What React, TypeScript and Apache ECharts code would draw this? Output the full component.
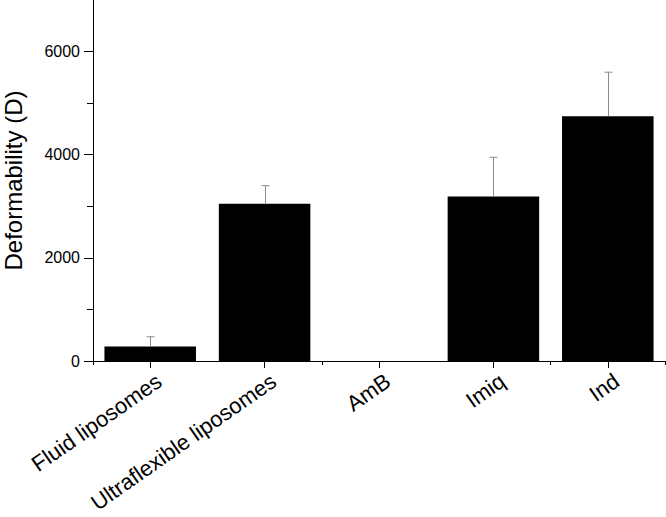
import React, { useEffect, useRef } from "react";
import * as echarts from "echarts";

const categories = ["Fluid liposomes", "Ultraflexible liposomes", "AmB", "Imiq", "Ind"];
const values = [280, 3050, 0, 3190, 4745];
const errors = [190, 350, 0, 760, 855];
const yTicks = [0, 2000, 4000, 6000];
const yMinorTicks = [1000, 3000, 5000];
const yTitle = "Deformability (D)";

const FONT = "'Liberation Sans', Arial, Helvetica, sans-serif";

export default function App() {
  const ref = useRef<HTMLDivElement>(null);
  useEffect(() => {
    if (!ref.current) return;
    const chart = echarts.init(ref.current, undefined, { renderer: "svg" });
    const errData = categories.map((_, i) => [i, values[i], values[i] + errors[i], errors[i]]);
    chart.setOption({
      animation: false,
      backgroundColor: "#ffffff",
      grid: { left: 93, right: 1, top: 0, bottom: 156, outerBoundsMode: "none" },
      xAxis: [
        {
          type: "category",
          data: categories,
          position: "bottom",
          axisLine: { show: true, onZero: false, lineStyle: { color: "#000", width: 1 } },
          axisTick: { show: true, alignWithLabel: true, length: 7, lineStyle: { color: "#000" } },
          axisLabel: {
            rotate: 35,
            margin: 24,
            fontSize: 22,
            fontFamily: FONT,
            color: "#000",
            interval: 0,
            padding: [0, -11, 0, 0],
          },
          splitLine: { show: false },
        },
        {
          type: "category",
          data: categories,
          position: "bottom",
          axisLine: { show: false },
          axisTick: { show: true, length: 4, lineStyle: { color: "#000" } },
          axisLabel: { show: false },
          splitLine: { show: false },
        },
      ],
      yAxis: [
        {
          type: "value",
          min: 0,
          max: 7000,
          name: yTitle,
          nameLocation: "middle",
          nameGap: 68,
          nameRotate: 90,
          nameTextStyle: { fontSize: 24, fontFamily: FONT, color: "#000" },
          axisLine: { show: true, lineStyle: { color: "#000", width: 1 } },
          axisTick: { show: true, length: 9, customValues: yTicks, lineStyle: { color: "#000" } },
          axisLabel: {
            customValues: yTicks,
            margin: 13,
            fontSize: 16,
            fontFamily: FONT,
            color: "#000",
            formatter: (v: number) => String(v),
          },
          splitLine: { show: false },
        },
        {
          type: "value",
          min: 0,
          max: 7000,
          position: "left",
          axisLine: { show: false },
          axisTick: { show: true, length: 6, customValues: yMinorTicks, lineStyle: { color: "#000" } },
          axisLabel: { show: false },
          splitLine: { show: false },
        },
      ],
      series: [
        {
          type: "bar",
          data: values,
          xAxisIndex: 0,
          yAxisIndex: 0,
          barCategoryGap: "20%",
          itemStyle: { color: "#000" },
          z: 2,
        },
        {
          type: "custom",
          xAxisIndex: 0,
          yAxisIndex: 0,
          z: 3,
          data: errData,
          renderItem: (_params: any, api: any) => {
            if (api.value(3) <= 0) return null;
            const base = api.coord([api.value(0), api.value(1)]);
            const top = api.coord([api.value(0), api.value(2)]);
            const x = Math.round(base[0]) + 0.5;
            const style = { stroke: "#8a8a8a", lineWidth: 1 };
            return {
              type: "group",
              children: [
                { type: "line", shape: { x1: x, y1: base[1], x2: x, y2: top[1] }, style },
                { type: "line", shape: { x1: x - 4, y1: top[1], x2: x + 4, y2: top[1] }, style },
              ],
            };
          },
        },
      ],
    });
    return () => chart.dispose();
  }, []);
  return (
    <div
      ref={ref}
      style={{ position: "fixed", left: 0, top: 0, width: 666, height: 517, background: "#fff" }}
    />
  );
}
